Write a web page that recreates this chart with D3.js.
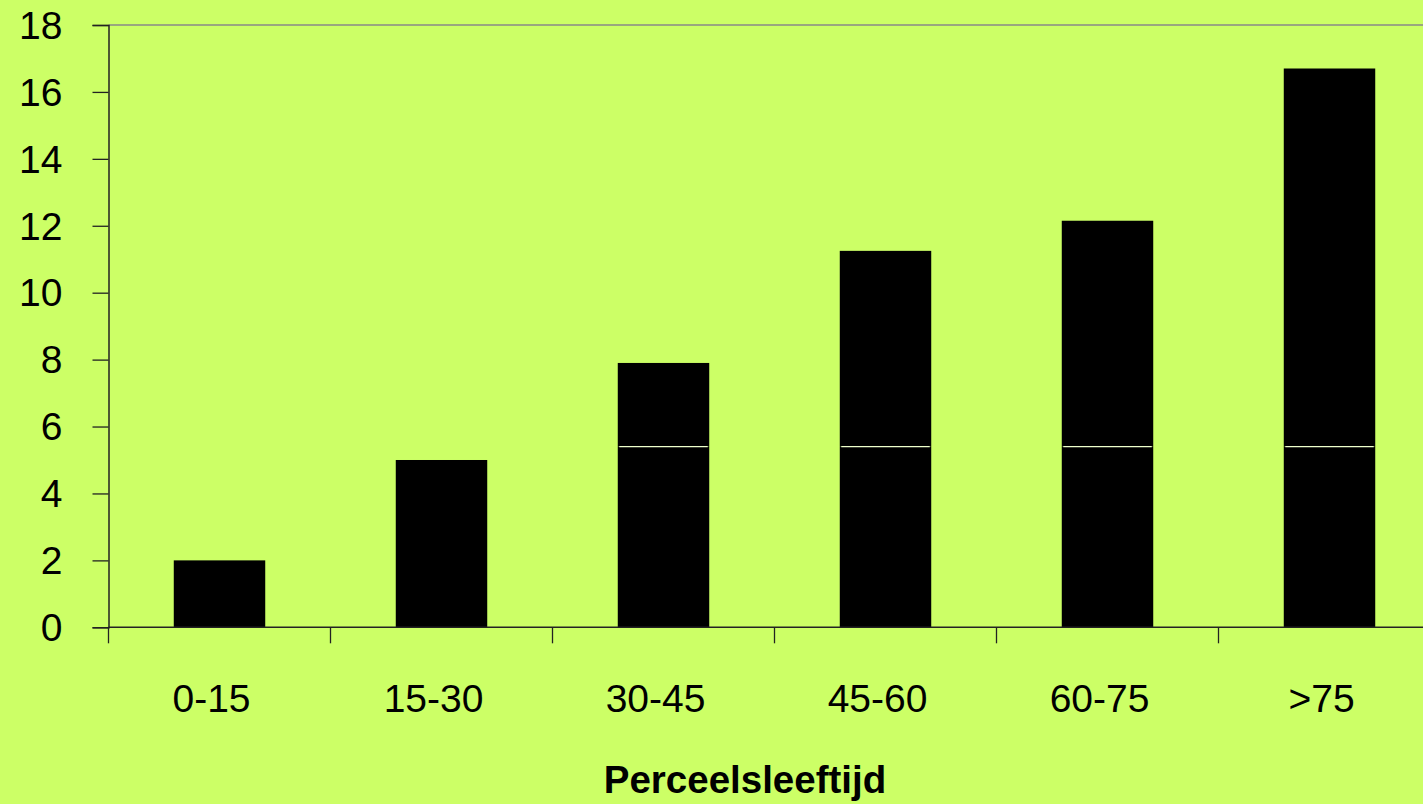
<!DOCTYPE html>
<html>
<head>
<meta charset="utf-8">
<script src="https://cdn.jsdelivr.net/npm/d3@7"></script>
<style>
  html, body { margin: 0; padding: 0; background: #CCFF66; overflow: hidden; }
  svg { display: block; }
  text { font-family: "Liberation Sans", Arial, sans-serif; fill: #000; }
</style>
</head>
<body>
<svg id="chart" width="1423" height="804"></svg>
<script>
const categories = ["0-15", "15-30", "30-45", "45-60", "60-75", ">75"];
const lowerValues = [2.0, 5.0, 5.4, 5.4, 5.4, 5.4];
const upperValues = [0, 0, 2.5, 5.85, 6.75, 11.3];
const yTicks = [0, 2, 4, 6, 8, 10, 12, 14, 16, 18];
const xTitle = "Perceelsleeftijd";

(function () {
const svg = d3.select("#chart");
const W = 1423, H = 804;
svg.append("rect").attr("width", W).attr("height", H).attr("fill", "#CCFF66");

const pLeft = 108.5, pRight = 1440.5, pTop = 25, pBottom = 627.3;

const x = d3.scaleBand().domain(categories).range([pLeft, pRight])
  .paddingInner(0.588).paddingOuter(0.294);
const y = d3.scaleLinear().domain([0, 18]).range([pBottom, pTop]);

const rows = categories.map((c, i) => ({cat: c, lower: lowerValues[i], upper: upperValues[i]}));
const series = d3.stack().keys(["lower", "upper"])(rows);

// top border of plot area
svg.append("line").attr("x1", pLeft).attr("x2", pRight).attr("y1", pTop).attr("y2", pTop)
  .attr("stroke", "#888").attr("stroke-width", 1.5);

// bars
const g = svg.append("g");
series.forEach(s => {
  g.selectAll(null).data(s).enter().append("rect")
    .attr("x", d => x(d.data.cat))
    .attr("width", x.bandwidth())
    .attr("y", d => y(d[1]))
    .attr("height", d => Math.max(0, y(d[0]) - y(d[1])))
    .attr("fill", "#000");
});
// separator between stacked segments
g.selectAll(null).data(series[1].filter(d => d[1] > d[0])).enter().append("line")
  .attr("x1", d => x(d.data.cat) + 1.5)
  .attr("x2", d => x(d.data.cat) + x.bandwidth() - 1.5)
  .attr("y1", d => y(d[0])).attr("y2", d => y(d[0]))
  .attr("stroke", "#eeffcc").attr("stroke-width", 1.4);

// y axis
const yAxis = d3.axisLeft(y).tickValues(yTicks).tickSize(16).tickPadding(30).tickFormat(d3.format("d"));
const ya = svg.append("g").attr("transform", `translate(${pLeft},0)`).call(yAxis);
ya.select(".domain").attr("stroke", "#222").attr("stroke-width", 1.5);
ya.selectAll(".tick line").attr("stroke", "#222").attr("stroke-width", 1.3);
ya.selectAll(".tick text").style("font-size", "39px").attr("dy", "0.34em");

// x axis
svg.append("line").attr("x1", pLeft).attr("x2", pRight).attr("y1", pBottom).attr("y2", pBottom)
  .attr("stroke", "#222").attr("stroke-width", 1.5);
const step = x.step();
const boundaries = categories.map(c => x(c) - (step - x.bandwidth()) / 2).concat([pRight]);
svg.selectAll(null).data(boundaries).enter().append("line")
  .attr("x1", d => d).attr("x2", d => d)
  .attr("y1", pBottom).attr("y2", pBottom + 16)
  .attr("stroke", "#222").attr("stroke-width", 1.3);
svg.selectAll(null).data(categories).enter().append("text")
  .attr("x", d => x(d) + x.bandwidth() / 2 - 8)
  .attr("y", 712)
  .attr("text-anchor", "middle")
  .style("font-size", "39px")
  .text(d => d);

svg.append("text").attr("x", 745).attr("y", 793).attr("text-anchor", "middle")
  .style("font-size", "38.5px").style("font-weight", "bold").text(xTitle);
})();
</script>
</body>
</html>
